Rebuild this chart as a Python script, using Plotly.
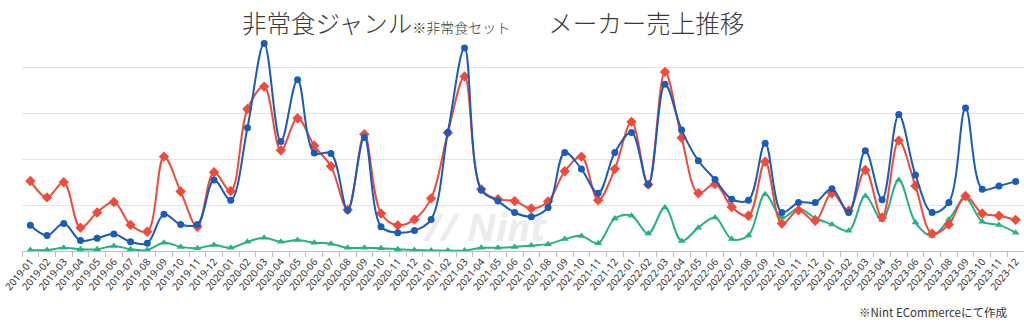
import plotly.graph_objects as go

months = [f"{y}-{m:02d}" for y in range(2019, 2024) for m in range(1, 13)]

blue = [0.56, 0.34, 0.60, 0.23, 0.28, 0.37, 0.20, 0.17, 0.80, 0.58, 0.58, 1.55,
        1.11, 2.69, 4.53, 2.39, 3.74, 2.14, 2.13, 0.89, 2.48, 0.53, 0.40, 0.45,
        0.69, 2.59, 4.43, 1.33, 1.09, 0.84, 0.75, 0.95, 2.15, 1.79, 1.26, 2.15,
        2.59, 1.45, 3.64, 2.64, 1.97, 1.56, 1.13, 1.11, 2.35, 0.84, 1.06, 1.06,
        1.36, 0.84, 2.19, 1.12, 2.98, 1.66, 0.84, 1.06, 3.12, 1.35, 1.42, 1.52]

red = [1.53, 1.17, 1.50, 0.51, 0.84, 1.07, 0.57, 0.42, 2.06, 1.30, 0.53, 1.72,
       1.31, 3.10, 3.59, 2.20, 2.90, 2.30, 1.85, 0.90, 2.55, 0.82, 0.56, 0.69,
       1.15, 2.58, 3.81, 1.35, 1.13, 1.09, 0.93, 1.08, 1.74, 2.06, 1.11, 1.79,
       2.82, 1.45, 3.91, 2.47, 1.26, 1.46, 0.96, 0.77, 1.95, 0.60, 0.89, 0.66,
       1.26, 0.88, 1.77, 0.73, 2.41, 1.42, 0.38, 0.58, 1.20, 0.82, 0.77, 0.68]

green = [0.02, 0.02, 0.07, 0.04, 0.04, 0.11, 0.04, 0.02, 0.18, 0.09, 0.06, 0.13,
         0.07, 0.20, 0.29, 0.20, 0.24, 0.18, 0.16, 0.07, 0.07, 0.06, 0.04, 0.02,
         0.01, 0.01, 0.01, 0.07, 0.07, 0.09, 0.12, 0.15, 0.26, 0.33, 0.17, 0.71,
         0.77, 0.38, 0.95, 0.22, 0.51, 0.73, 0.26, 0.34, 1.24, 0.73, 0.93, 0.72,
         0.58, 0.44, 1.20, 0.68, 1.55, 0.62, 0.33, 0.69, 1.15, 0.64, 0.57, 0.40]

BLUE = "#1a5cb8"
RED = "#ef4a3a"
GREEN = "#27b08a"

fig = go.Figure()
fig.add_trace(go.Scatter(x=months, y=green, mode="lines+markers",
                         line=dict(color=GREEN, width=2, shape="spline", smoothing=1),
                         marker=dict(symbol="triangle-up", size=7, color=GREEN)))
fig.add_trace(go.Scatter(x=months, y=red, mode="lines+markers",
                         line=dict(color=RED, width=2, shape="spline", smoothing=1),
                         marker=dict(symbol="diamond", size=8, color=RED)))
fig.add_trace(go.Scatter(x=months, y=blue, mode="lines+markers",
                         line=dict(color=BLUE, width=2, shape="spline", smoothing=1),
                         marker=dict(symbol="circle", size=7, color=BLUE)))

fig.update_layout(
    width=1024, height=329,
    margin=dict(l=22, r=0, t=22, b=78),
    paper_bgcolor="white", plot_bgcolor="white",
    showlegend=False,
    font=dict(family="Noto Sans CJK JP, Noto Sans, sans-serif", color="#333"),
)
fig.update_xaxes(
    type="category", tickangle=-50, tickfont=dict(size=10, color="#333", family="Noto Sans, sans-serif"),
    showline=True, linecolor="#bfbfbf", linewidth=1,
    ticks="outside", tickson="boundaries", ticklen=5, tickcolor="#bfbfbf",
    showgrid=False, range=[-0.5, 59.5],
)
fig.update_yaxes(
    range=[0, 5], dtick=1, showticklabels=False, showgrid=True,
    gridcolor="#dfe6f1", gridwidth=1, zeroline=False,
)

fig.add_annotation(
    xref="paper", yref="paper", x=0.2176, y=1.0, yanchor="middle", xanchor="left",
    text='非常食ジャンル<span style="font-size:14px">※非常食セット</span>&nbsp;&nbsp;&nbsp;&nbsp;&nbsp;&nbsp;&nbsp;メーカー売上推移',
    showarrow=False, font=dict(size=24.5, color="#3a3a3a", family="Noto Sans CJK JP Light, Noto Sans CJK JP", weight=300),
)
fig.add_annotation(
    xref="paper", yref="paper", x=0.462, y=0.11, xanchor="center", yanchor="middle",
    text="<i><b>// Nint</b></i>", showarrow=False,
    font=dict(size=38, color="rgba(200,200,200,0.35)", family="Noto Sans"),
)
fig.add_annotation(
    xref="paper", yref="paper", x=0.985, y=-0.265, xanchor="right", yanchor="middle",
    text="※Nint ECommerceにて作成", showarrow=False,
    font=dict(size=11.5, color="#333", family="Noto Sans CJK JP"),
)

fig.write_html("out.html")
